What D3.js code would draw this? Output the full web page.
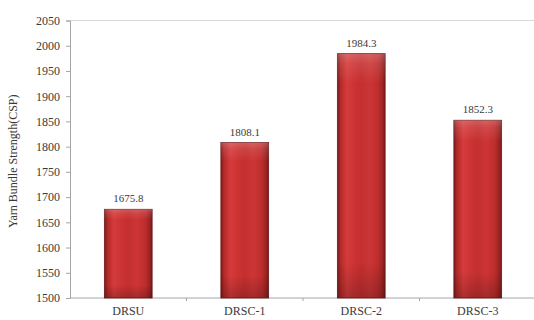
<!DOCTYPE html>
<html>
<head>
<meta charset="utf-8">
<script src="https://cdn.jsdelivr.net/npm/d3@7"></script>
<style>
  html, body { margin: 0; padding: 0; background: #fff; }
  svg { display: block; }
  svg text { font-family: "Liberation Serif", "Times New Roman", serif !important; fill: #3a3a3a; }
</style>
</head>
<body>
<svg id="chart" width="534" height="320"></svg>
<script>
// Yarn bundle strength per sample
const categories = ["DRSU", "DRSC-1", "DRSC-2", "DRSC-3"];
const strength = [1675.8, 1808.1, 1984.3, 1852.3];
const yTicks = d3.range(1500, 2051, 50);
const yTitle = "Yarn Bundle Strength(CSP)";

const svg = d3.select("#chart");
const W = 534, H = 320;
const margin = { left: 70, top: 20.5, bottom: 22 };
const plotRight = 536;

const x = d3.scaleBand()
  .domain(categories)
  .range([margin.left, plotRight])
  .paddingInner(0.59)
  .paddingOuter(0.295);

const y = d3.scaleLinear()
  .domain([1500, 2050])
  .range([H - margin.bottom, margin.top]);

// Gradients giving the bars their rounded, shaded look
const defs = svg.append("defs");
const hg = defs.append("linearGradient").attr("id", "barH")
  .attr("x1", "0").attr("x2", "1").attr("y1", "0").attr("y2", "0");
[
  [0, "#7c1b1b"], [0.07, "#b42a2a"], [0.2, "#d63b3b"], [0.35, "#cc3333"],
  [0.5, "#c42f2f"], [0.68, "#cd3535"], [0.86, "#bd2d2d"], [0.95, "#9a2323"], [1, "#741a1a"]
].forEach(([o, c]) => hg.append("stop").attr("offset", o).attr("stop-color", c));

const vg = defs.append("linearGradient").attr("id", "barV")
  .attr("x1", "0").attr("x2", "0").attr("y1", "0").attr("y2", "1");
[
  [0, "#ffffff", 0.22], [0.04, "#ffffff", 0.1], [0.12, "#ffffff", 0.0],
  [0.85, "#000000", 0.0], [1, "#000000", 0.2]
].forEach(([o, c, a]) => vg.append("stop").attr("offset", o)
  .attr("stop-color", c).attr("stop-opacity", a));

// Top frame line at the axis maximum
svg.append("line")
  .attr("x1", margin.left).attr("x2", W)
  .attr("y1", y(2050)).attr("y2", y(2050))
  .attr("stroke", "#d9d9d9").attr("stroke-width", 1);

// Y axis
const yAxis = svg.append("g")
  .attr("transform", `translate(${margin.left},0)`)
  .call(d3.axisLeft(y).tickValues(yTicks).tickSize(4).tickPadding(6).tickFormat(d3.format("d")));
yAxis.attr("font-family", null);
yAxis.select(".domain").attr("stroke", "#a6a6a6");
yAxis.selectAll(".tick line").attr("stroke", "#a6a6a6");
yAxis.selectAll(".tick text")
  .attr("font-size", 12)
  .attr("fill", "#555");

// X axis
const xAxis = svg.append("g")
  .attr("transform", `translate(0,${y(1500)})`)
  .call(d3.axisBottom(x).tickSize(0).tickPadding(8));
xAxis.attr("font-family", null);
xAxis.select(".domain").attr("stroke", "#a6a6a6").attr("d", `M${margin.left},0H${W}`);
xAxis.selectAll(".tick text")
  .attr("font-size", 12)
  .attr("fill", "#333");

// Small tick marks between categories
const step = x.step();
svg.append("g").selectAll("line")
  .data(categories.slice(1))
  .join("line")
  .attr("x1", d => x(d) - (step - x.bandwidth()) / 2)
  .attr("x2", d => x(d) - (step - x.bandwidth()) / 2)
  .attr("y1", y(1500)).attr("y2", y(1500) + 3)
  .attr("stroke", "#a6a6a6");

// Bars
const bars = svg.append("g");
bars.selectAll("rect.base")
  .data(categories)
  .join("rect")
  .attr("class", "base")
  .attr("x", d => x(d))
  .attr("width", x.bandwidth())
  .attr("y", (d, i) => y(strength[i]))
  .attr("height", (d, i) => y(1500) - y(strength[i]))
  .attr("fill", "url(#barH)")
  .attr("stroke", "#6e1a1a")
  .attr("stroke-width", 0.8);
bars.selectAll("rect.shade")
  .data(categories)
  .join("rect")
  .attr("class", "shade")
  .attr("x", d => x(d))
  .attr("width", x.bandwidth())
  .attr("y", (d, i) => y(strength[i]))
  .attr("height", (d, i) => y(1500) - y(strength[i]))
  .attr("fill", "url(#barV)");

// Value labels
svg.append("g").selectAll("text")
  .data(categories)
  .join("text")
  .attr("x", d => x(d) + x.bandwidth() / 2)
  .attr("y", (d, i) => y(strength[i]) - 7)
  .attr("text-anchor", "middle")
  .attr("font-size", 11)
  .attr("fill", "#3a3a3a")
  .text((d, i) => strength[i].toFixed(1));

// Y axis title
svg.append("text")
  .attr("transform", `translate(17,${(y(1500) + y(2050)) / 2 + 2}) rotate(-90)`)
  .attr("text-anchor", "middle")
  .attr("font-size", 12)
  .attr("fill", "#555")
  .text(yTitle);
</script>
</body>
</html>
